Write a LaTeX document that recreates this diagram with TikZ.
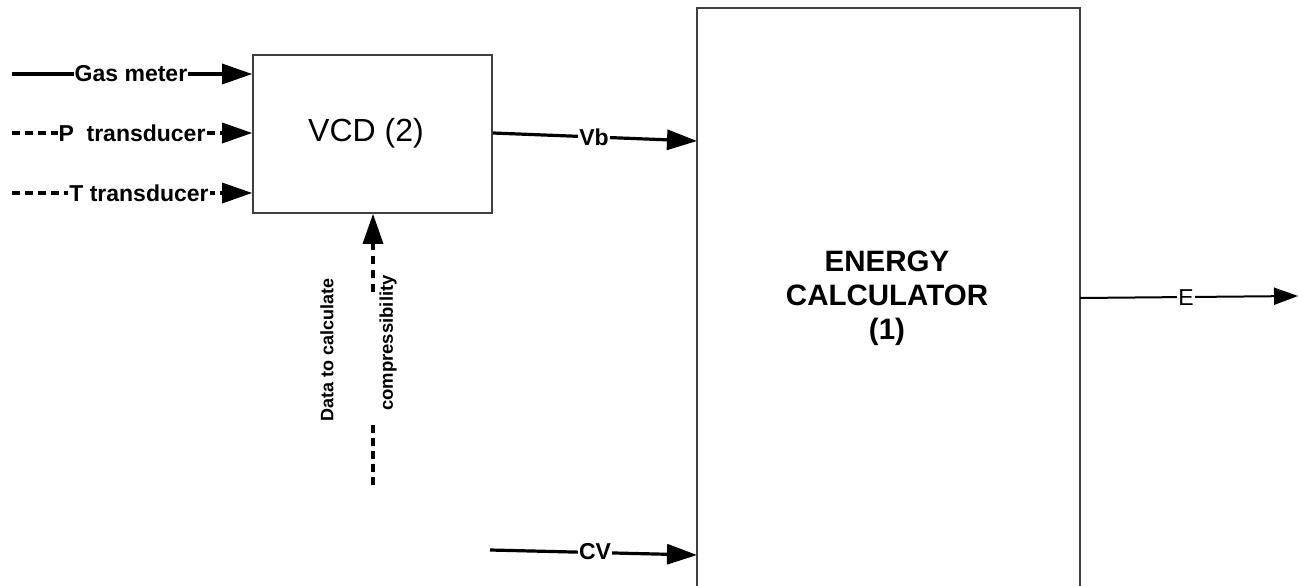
\documentclass[tikz,border=0pt]{standalone}
\usepackage{fontspec}
\setmainfont{Liberation Sans}
\usetikzlibrary{arrows.meta}
\begin{document}
\begin{tikzpicture}[x=1pt,y=-1pt,
  blockbox/.style={draw=black!75,line width=1.6pt,fill=white,inner sep=0pt},
  conn/.style={line width=3.2pt,-{Triangle[length=30pt,width=20pt]}},
  dconn/.style={conn,dash pattern=on 8pt off 5pt},
  lbl/.style={fill=white,inner sep=1pt,font=\fontsize{23}{27}\selectfont\bfseries}]
\useasboundingbox (0,0) rectangle (1298,586);
\clip (0,0) rectangle (1298,586);
\fill[white] (0,0) rectangle (1298,586);
% blocks
\node[blockbox,minimum width=239pt,minimum height=158pt] (vcd) at (372.5,134) {};
\node[font=\fontsize{32}{36}\selectfont] (vcdt) at (366,133) {VCD (2)};
\draw[draw=black!75,line width=1.6pt] (697,8) rectangle (1080,620);
\coordinate (ecW1) at (697,141);
\coordinate (ecW2) at (697,555);
\coordinate (ecE) at (1080,298);
\node[font=\fontsize{29.5}{34}\selectfont\bfseries,align=center] (ect) at (887,298) {ENERGY\\CALCULATOR\\(1)};
% inputs
\coordinate (g0) at (12,74);
\coordinate (p0) at (12,133);
\coordinate (t0) at (12,193);
\draw[conn] (g0) -- (vcd.west |- g0);
\node[lbl] (gl) at (131,74) {Gas meter};
\draw[dconn] (p0) -- (vcd.west |- p0);
\node[lbl] (pl) at (132,133) {P\ \ transducer};
\draw[dconn] (t0) -- (vcd.west |- t0);
\node[lbl] (tl) at (139,193) {T transducer};
% Vb
\draw[conn] (vcd.east |- 0,133) -- (ecW1);
\node[lbl] (vbl) at (594,137) {Vb};
% CV
\coordinate (cv0) at (490,550);
\draw[conn] (cv0) -- (ecW2);
\node[lbl] (cvl) at (595,552) {CV};
% E
\coordinate (e1) at (1298,296);
\draw[line width=2pt,-{Triangle[length=24pt,width=17pt]}] (ecE) -- (e1);
\node[fill=white,inner sep=1pt,font=\fontsize{23}{26}\selectfont] (el) at (1186,298) {E};
% compressibility
\coordinate (d0) at (373,485);
\coordinate (dgb) at (373,425);
\coordinate (dgt) at (373,292);
\draw[line width=3.4pt,dash pattern=on 8pt off 5pt] (d0) -- (dgb);
\draw[conn,line width=3.4pt,dash pattern=on 8pt off 6pt] (dgt) -- (vcd.south -| dgt);
\node[rotate=90,font=\fontsize{18}{21}\selectfont\bfseries] (dtc) at (327,350) {Data to calculate};
\node[rotate=90,font=\fontsize{18.5}{21}\selectfont\bfseries] (cmp) at (388,343) {compressibility};
\end{tikzpicture}
\end{document}
